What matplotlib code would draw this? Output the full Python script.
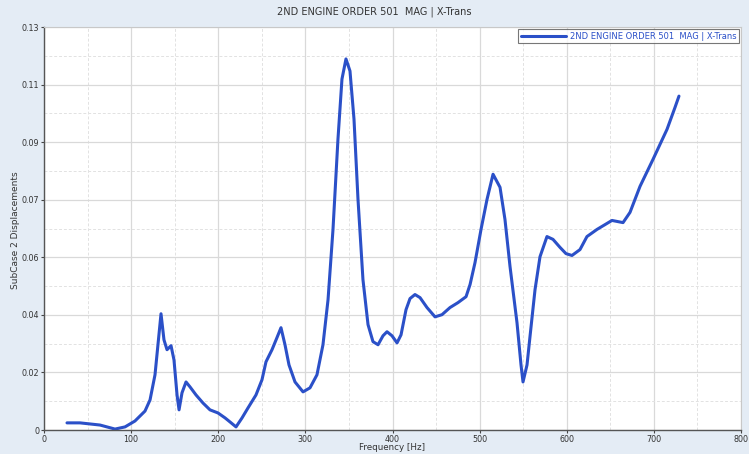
import matplotlib
matplotlib.use("Agg")
import matplotlib.pyplot as plt
import numpy as np
from matplotlib.ticker import FixedLocator, MultipleLocator

freq = [26.4, 41.3, 64.3, 81.5, 93.0, 104.4, 115.9, 121.7, 127.4, 130.8, 134.3, 137.7,
        141.2, 145.8, 149.2, 152.7, 155.0, 158.4, 163.0, 167.6, 174.5, 182.5, 190.5,
        199.7, 207.8, 213.5, 220.4, 227.3, 234.1, 243.3, 250.2, 254.8, 261.7, 267.4,
        272.0, 276.6, 281.2, 288.1, 297.3, 305.3, 313.3, 320.2, 326.0, 331.7, 337.4,
        342.0, 346.6, 351.2, 355.8, 360.4, 366.1, 371.9, 377.6, 383.4, 389.1, 393.7,
        399.4, 405.2, 409.8, 415.5, 420.1, 425.8, 431.6, 439.6, 448.8, 456.8, 466.0,
        475.2, 484.4, 489.0, 494.7, 501.6, 508.5, 515.4, 523.4, 529.1, 534.9, 542.9,
        547.5, 549.8, 554.4, 557.8, 563.6, 569.3, 577.3, 584.2, 592.3, 599.1, 606.0,
        615.2, 623.2, 634.7, 651.9, 664.6, 672.6, 684.1, 699.0, 715.1, 724.3, 728.8]
disp = [0.0023, 0.0023, 0.0016, 0.0003, 0.0010, 0.0029, 0.0061, 0.0097, 0.0178, 0.0275,
        0.0375, 0.0291, 0.0259, 0.0272, 0.0226, 0.0113, 0.0065, 0.0120, 0.0155, 0.0139,
        0.0113, 0.0087, 0.0065, 0.0055, 0.0039, 0.0026, 0.0010, 0.0039, 0.0071, 0.0113,
        0.0162, 0.0220, 0.0259, 0.0298, 0.0330, 0.0275, 0.0210, 0.0155, 0.0123, 0.0136,
        0.0178, 0.0275, 0.0420, 0.0647, 0.0938, 0.1132, 0.1197, 0.1158, 0.1003, 0.0744,
        0.0485, 0.0340, 0.0285, 0.0275, 0.0304, 0.0317, 0.0304, 0.0281, 0.0307, 0.0388,
        0.0424, 0.0437, 0.0427, 0.0395, 0.0365, 0.0372, 0.0395, 0.0411, 0.0430, 0.0469,
        0.0540, 0.0647, 0.0744, 0.0825, 0.0783, 0.0679, 0.0527, 0.0346, 0.0210, 0.0155,
        0.0210, 0.0301, 0.0453, 0.0559, 0.0624, 0.0615, 0.0589, 0.0569, 0.0563, 0.0582,
        0.0624, 0.0647, 0.0676, 0.0669, 0.0702, 0.0786, 0.0873, 0.0970, 0.1041, 0.1077]

x_ticks = [0, 100, 200, 300, 400, 500, 600, 700, 800]
y_tick_labels = ["0", "0.02", "0.04", "0.06", "0.07", "0.09", "0.11", "0.13"]
y_max = 0.13

fig = plt.figure(figsize=(7.49, 4.54), dpi=100, facecolor="#e4ecf5")
ax = fig.add_axes([44/749, 24/454, 697/749, 403/454])
ax.set_facecolor("white")

ax.plot(freq, disp, color="#2b50c8", lw=2.2, solid_joinstyle="round",
        solid_capstyle="round", label="2ND ENGINE ORDER 501  MAG | X-Trans")

ax.set_xlim(0, 800)
ax.set_ylim(0, y_max)
ax.set_xticks(x_ticks)
ax.set_xticklabels([str(t) for t in x_ticks])
yt = np.linspace(0, y_max, len(y_tick_labels))
ax.set_yticks(yt)
ax.set_yticklabels(y_tick_labels)
ax.xaxis.set_minor_locator(MultipleLocator(50))
ax.yaxis.set_minor_locator(FixedLocator((yt[:-1] + yt[1:]) / 2))

ax.grid(which="major", color="#d9d9d9", lw=0.9, ls="-")
ax.grid(which="minor", color="#e2e2e2", lw=0.7, ls=(0, (3, 2)))
ax.set_axisbelow(True)

ax.tick_params(which="major", labelsize=5.8, length=2.5, width=0.8, color="#444444",
               labelcolor="#333333", pad=1)
ax.tick_params(which="minor", length=0)

for s in ["left", "bottom"]:
    ax.spines[s].set_color("#555555")
    ax.spines[s].set_linewidth(1.0)
for s in ["top", "right"]:
    ax.spines[s].set_color("#c8c8c8")
    ax.spines[s].set_linewidth(0.8)

fig.text(0.5 * (44 + 741) / 749, 1 - 447/454, "Frequency [Hz]", ha="center",
         va="center", fontsize=6.3, color="#333333")
fig.text(16/749, 1 - 230/454, "SubCase 2 Displacements", ha="center",
         va="center", rotation=90, fontsize=6.5, color="#333333")
fig.text(0.5, 1 - 12/454, "2ND ENGINE ORDER 501  MAG | X-Trans", ha="center",
         va="center", fontsize=7, color="#333333")

leg = ax.legend(loc="upper right", fontsize=6, frameon=True, fancybox=False,
                borderpad=0.3, handlelength=5.5, handletextpad=0.4,
                borderaxespad=0.25, labelcolor="#2b50c8")
leg.get_frame().set_edgecolor("#555555")
leg.get_frame().set_linewidth(0.8)

fig.savefig("out.png", dpi=100, facecolor=fig.get_facecolor())
